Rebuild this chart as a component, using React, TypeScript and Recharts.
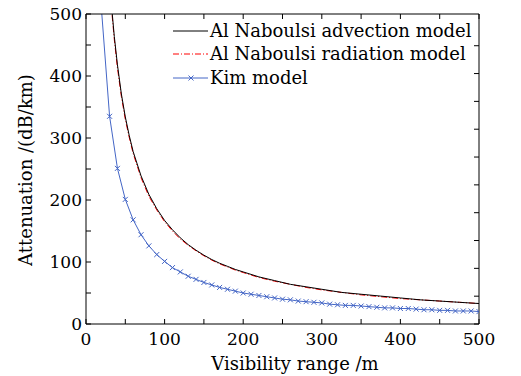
import { Line, LineChart, XAxis, YAxis } from "recharts";

// visibility (m) / attenuation (dB/km)
const naboulsiVisibility = [
  30, 33, 36, 40, 45, 50, 55, 60, 70, 80, 90, 100, 110, 120, 130, 140, 150,
  160, 170, 180, 190, 200, 220, 240, 260, 280, 300, 325, 350, 375, 400, 425,
  450, 475, 500,
];
const advection = [
  557, 506, 464, 418, 371, 334, 304, 278, 239, 209, 186, 167, 152, 139, 128,
  119, 111, 104, 98, 93, 88, 84, 76, 70, 64, 60, 56, 51, 48, 45, 42, 39, 37,
  35, 33,
];
const radiation = [
  551, 501, 459, 413, 367, 330, 301, 275, 236, 206, 184, 165, 150, 137, 127,
  118, 110, 103, 97, 92, 87, 83, 75, 69, 64, 59, 55, 51, 47, 44, 41, 39, 37,
  35, 33,
];
const kimVisibility = [
  20, 30, 40, 50, 60, 70, 80, 90, 100, 110, 120, 130, 140, 150, 160, 170, 180,
  190, 200, 210, 220, 230, 240, 250, 260, 270, 280, 290, 300, 310, 320, 330,
  340, 350, 360, 370, 380, 390, 400, 410, 420, 430, 440, 450, 460, 470, 480,
  490, 500,
];
const kim = [
  502, 335, 251, 201, 168, 144, 126, 112, 101, 91, 84, 77, 72, 67, 63, 59, 56,
  53, 50, 48, 46, 44, 42, 40, 39, 37, 36, 35, 34, 32, 31, 30, 30, 29, 28, 27,
  26, 26, 25, 25, 24, 23, 23, 22, 22, 21, 21, 21, 20,
];
const ticks = [0, 50, 100, 150, 200, 250, 300, 350, 400, 450, 500];

const advectionData = naboulsiVisibility.map((v, i) => ({ v, a: advection[i] }));
const radiationData = naboulsiVisibility.map((v, i) => ({ v, a: radiation[i] }));
const kimData = kimVisibility.map((v, i) => ({ v, a: kim[i] }));

const FONT = "'DejaVu Serif', serif";
const KIM_COLOR = "#4466c6";

const Cross = ({ cx, cy, value }: any) => {
  if (cx == null || cy == null || value > 500) return null;
  const s = 2.5;
  return (
    <path
      d={`M${cx - s},${cy - s}L${cx + s},${cy + s}M${cx - s},${cy + s}L${cx + s},${cy - s}`}
      stroke={KIM_COLOR}
      strokeWidth={1}
      fill="none"
    />
  );
};

const legendItems = [
  { name: "Al Naboulsi advection model", color: "#000", dash: undefined, mark: false },
  { name: "Al Naboulsi radiation model", color: "#ff0000", dash: "6 2 1 2", mark: false },
  { name: "Kim model", color: KIM_COLOR, dash: undefined, mark: true },
];

const LegendBox = () => (
  <div
    style={{
      position: "absolute",
      left: 173,
      top: 19,
      fontFamily: FONT,
      fontSize: 18,
      color: "#000",
      lineHeight: 1,
    }}
  >
    {legendItems.map((it) => (
      <div key={it.name} style={{ display: "flex", alignItems: "center", height: 23.5 }}>
        <svg width={35} height={10} style={{ marginRight: 2 }}>
          <line x1={0} y1={5} x2={35} y2={5} stroke={it.color} strokeDasharray={it.dash} />
          {it.mark && <path d="M15.5,2.5L20.5,7.5M15.5,7.5L20.5,2.5" stroke={KIM_COLOR} />}
        </svg>
        <span>{it.name}</span>
      </div>
    ))}
  </div>
);

const blank = () => "";

const App = () => {
  return (
    <div style={{ position: "absolute", left: 0, top: 0, width: 521, height: 376, background: "#fff" }}>
      <LineChart
        width={521}
        height={376}
        margin={{ top: 13, right: 41, left: 0, bottom: 0 }}
      >
        <XAxis
          xAxisId="b"
          dataKey="v"
          type="number"
          domain={[0, 500]}
          ticks={ticks}
          allowDataOverflow
          tickSize={-5}
          tickMargin={14}
          height={52}
          stroke="#000"
          tick={{ fill: "#000", fontSize: 17, fontFamily: FONT }}
          tickFormatter={(t: number) => (t % 100 === 0 ? String(t) : "")}
          label={{
            content: () => (
              <text x={295} y={370} textAnchor="middle" fill="#000" fontSize={18} fontFamily={FONT}>
                Visibility range /m
              </text>
            ),
          }}
        />
        <XAxis
          xAxisId="t"
          orientation="top"
          dataKey="v"
          type="number"
          domain={[0, 500]}
          ticks={ticks}
          height={1}
          tickSize={-5}
          stroke="#000"
          tick={{ fontSize: 1 }}
          tickFormatter={blank}
        />
        <YAxis
          yAxisId="l"
          type="number"
          domain={[0, 500]}
          ticks={ticks}
          allowDataOverflow
          width={86}
          tickSize={-5}
          tickMargin={9}
          stroke="#000"
          tick={{ fill: "#000", fontSize: 17, fontFamily: FONT }}
          tickFormatter={(t: number) => (t % 100 === 0 ? String(t) : "")}
          label={{
            content: () => (
              <text
                transform="translate(32,170) rotate(-90)"
                textAnchor="middle"
                fill="#000"
                fontSize={18}
                fontFamily={FONT}
              >
                Attenuation /(dB/km)
              </text>
            ),
          }}
        />
        <YAxis
          yAxisId="r"
          orientation="right"
          type="number"
          domain={[0, 500]}
          ticks={ticks}
          width={1}
          tickSize={-5}
          stroke="#000"
          tick={{ fontSize: 1 }}
          tickFormatter={blank}
        />
        <Line
          xAxisId="t"
          yAxisId="r"
          data={advectionData}
          dataKey="a"
          stroke="none"
          dot={false}
          activeDot={false}
          isAnimationActive={false}
        />
        <Line
          xAxisId="b"
          yAxisId="l"
          data={kimData}
          dataKey="a"
          stroke={KIM_COLOR}
          strokeWidth={1}
          dot={<Cross />}
          activeDot={false}
          isAnimationActive={false}
        />
        <Line
          xAxisId="b"
          yAxisId="l"
          data={radiationData}
          dataKey="a"
          stroke="#ff0000"
          strokeWidth={1}
          strokeDasharray="6 2 1 2"
          dot={false}
          activeDot={false}
          isAnimationActive={false}
        />
        <Line
          xAxisId="b"
          yAxisId="l"
          data={advectionData}
          dataKey="a"
          stroke="#000"
          strokeWidth={1}
          dot={false}
          activeDot={false}
          isAnimationActive={false}
        />
      </LineChart>
      <LegendBox />
    </div>
  );
};

export default App;
